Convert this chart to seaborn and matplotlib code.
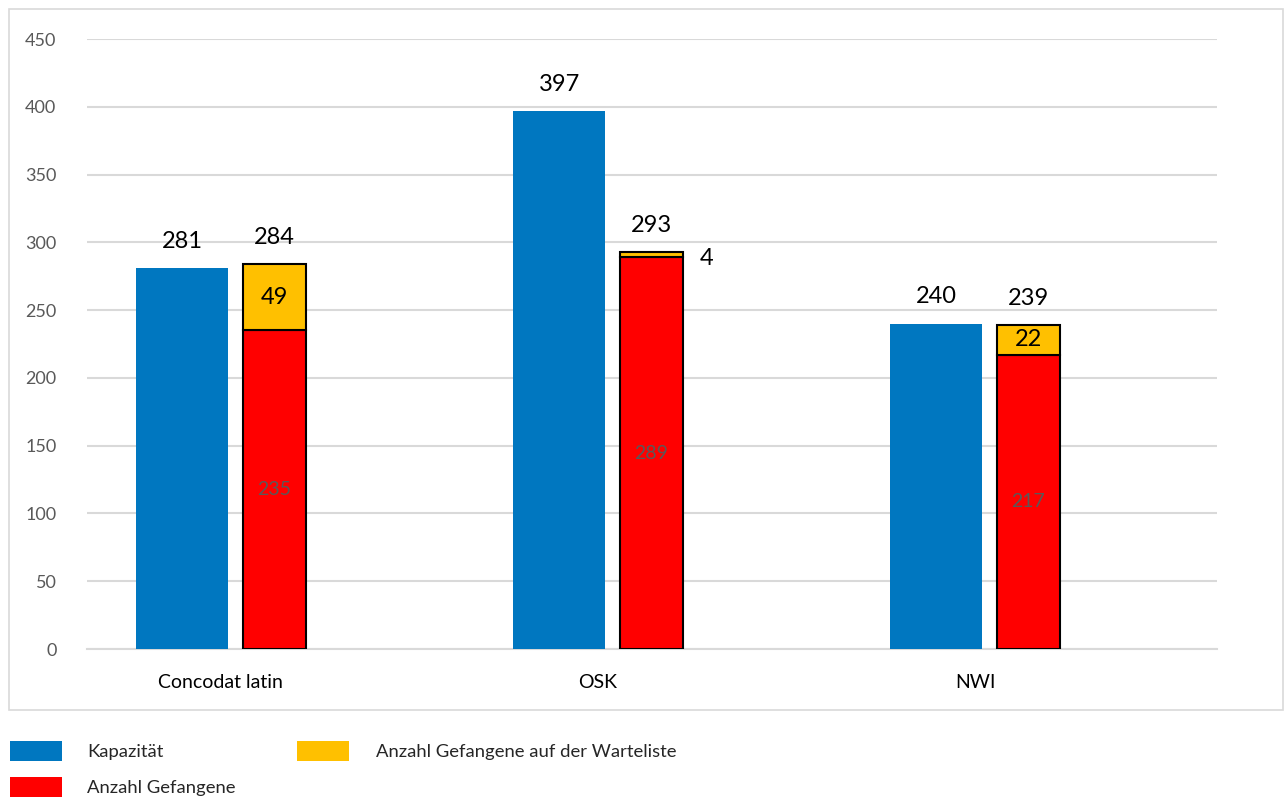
import matplotlib
matplotlib.use("Agg")
import matplotlib.pyplot as plt
import seaborn as sns
import pandas as pd
import numpy as np
from matplotlib.patches import Rectangle

categories = ["Concodat latin", "OSK", "NWI"]
kapazitaet = [281, 397, 240]
gefangene = [235, 289, 217]
warteliste = [49, 4, 22]
yticks = [0, 50, 100, 150, 200, 250, 300, 350, 400, 450]

sns.set_theme(style="white")
plt.rcParams['font.family'] = ['Lato', 'DejaVu Sans']

BLUE = "#0077C0"
RED = "#FF0000"
YEL = "#FFC000"
GRID = "#D9D9D9"

fig = plt.figure(figsize=(12.84, 7.99), dpi=100)
ax = fig.add_axes([87/1284, 1-649/799, (1217-87)/1284, (649-39)/799])

x = np.arange(len(categories))
off_b, w_b = -0.103, 0.244
off_r, w_r = 0.142, 0.167

df = pd.DataFrame({"cat": categories, "kap": kapazitaet,
                   "gef": gefangene, "wart": warteliste})

ax.bar(x + off_b, df["kap"], width=w_b, color=BLUE, edgecolor="none", zorder=3)
ax.bar(x + off_r, df["gef"], width=w_r, color=RED, edgecolor="black", linewidth=1.5, zorder=3)
ax.bar(x + off_r, df["wart"], width=w_r, bottom=df["gef"], color=YEL,
       edgecolor="black", linewidth=1.5, zorder=3)

ax.set_xlim(-0.355, 2.642)
ax.set_ylim(0, 450)
ax.set_yticks(yticks)
ax.set_yticklabels([str(t) for t in yticks], color="#595959", fontsize=13)
ax.set_xticks(x)
ax.set_xticklabels(categories, fontsize=14, color="black")
ax.tick_params(axis="y", length=0, pad=22)
ax.tick_params(axis="x", length=0, pad=18)
ax.yaxis.grid(True, color=GRID, linewidth=1.5, zorder=0)
ax.set_axisbelow(True)
for s in ["top", "right", "left"]:
    ax.spines[s].set_visible(False)
ax.spines["bottom"].set_color(GRID)
ax.spines["bottom"].set_linewidth(1.5)

for i in range(len(categories)):
    ax.text(x[i] + off_b, kapazitaet[i] + 12, str(kapazitaet[i]), ha="center",
            va="bottom", fontsize=17, color="black")
    tot = gefangene[i] + warteliste[i]
    ax.text(x[i] + off_r, tot + 12, str(tot), ha="center", va="bottom",
            fontsize=17, color="black")
    ax.text(x[i] + off_r, gefangene[i] / 2, str(gefangene[i]), ha="center",
            va="center", fontsize=14, color="#595959")
    if warteliste[i] >= 15:
        ax.text(x[i] + off_r, gefangene[i] + warteliste[i] / 2, str(warteliste[i]),
                ha="center", va="center", fontsize=17, color="black")
    else:
        ax.text(x[i] + off_r + w_r / 2 + 0.045, gefangene[i] + warteliste[i] / 2 - 3,
                str(warteliste[i]), ha="left", va="center", fontsize=17, color="black")

# outer border
fig.patches.append(Rectangle((9/1284, 1-710/799), (1283-9)/1284, (710-9)/799,
                             transform=fig.transFigure, fill=False,
                             edgecolor="#D9D9D9", linewidth=1.2))

# legend
def leg(x0, y0, color, label, x_text):
    fig.patches.append(Rectangle((x0/1284, 1-(y0+20)/799), 52/1284, 20/799,
                                 transform=fig.transFigure, facecolor=color,
                                 edgecolor="none"))
    fig.text(x_text/1284, 1-(y0+11)/799, label, ha="left", va="center",
             fontsize=13.3, color="#262626")

leg(10, 741, BLUE, "Kapazität", 87)
leg(297, 741, YEL, "Anzahl Gefangene auf der Warteliste", 376)
leg(10, 777, RED, "Anzahl Gefangene", 87)

fig.savefig("out.png", dpi=100)
